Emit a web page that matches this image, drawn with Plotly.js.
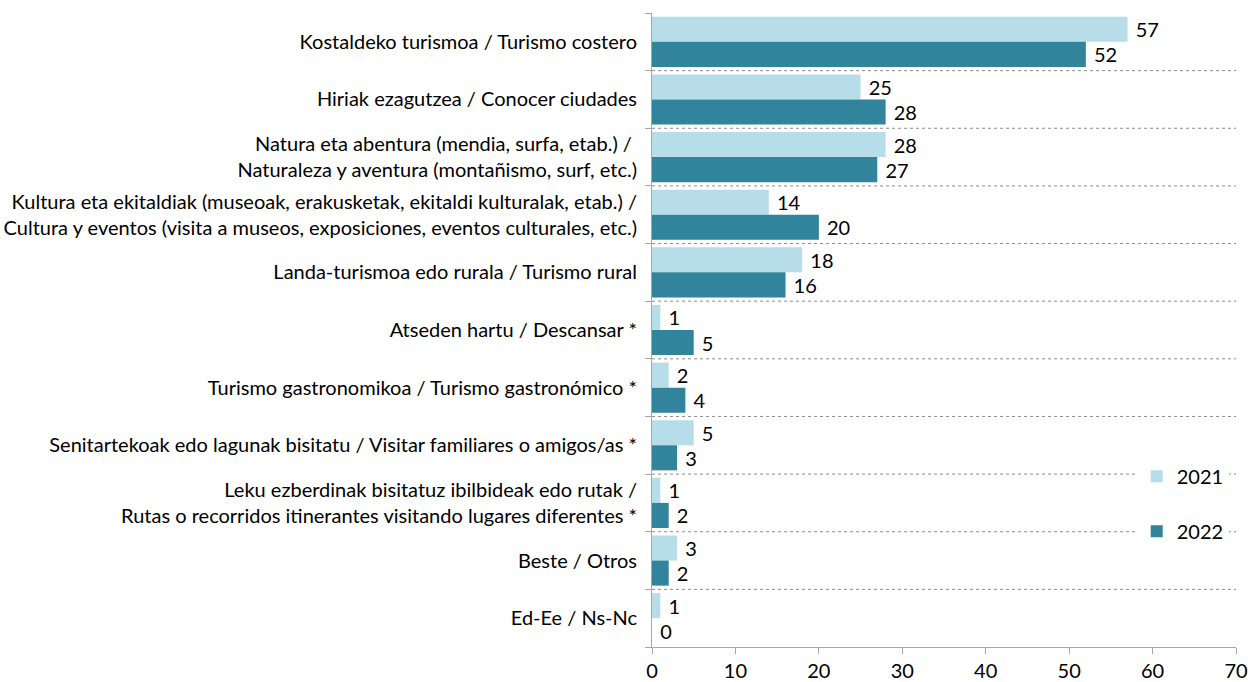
<!DOCTYPE html>
<html>
<head>
<meta charset="utf-8">
<script src="https://cdn.plot.ly/plotly-3.0.1.min.js"></script>
<style>html,body{margin:0;padding:0;background:#fff;}#chart{width:1248px;height:682px;}</style>
</head>
<body>
<div id="chart"></div>
<script>
const categories = [
  "Kostaldeko turismoa / Turismo costero",
  "Hiriak ezagutzea / Conocer ciudades",
  "Natura eta abentura (mendia, surfa, etab.) / <br>Naturaleza y aventura (montañismo, surf, etc.)",
  "Kultura eta ekitaldiak (museoak, erakusketak, ekitaldi kulturalak, etab.) /<br>Cultura y eventos (visita a museos, exposiciones, eventos culturales, etc.)",
  "Landa-turismoa edo rurala / Turismo rural",
  "Atseden hartu / Descansar *",
  "Turismo gastronomikoa / Turismo gastronómico *",
  "Senitartekoak edo lagunak bisitatu / Visitar familiares o amigos/as *",
  "Leku ezberdinak bisitatuz ibilbideak edo rutak /<br>Rutas o recorridos itinerantes visitando lugares diferentes *",
  "Beste / Otros",
  "Ed-Ee / Ns-Nc"
];
const values2021 = [57, 25, 28, 14, 18, 1, 2, 5, 1, 3, 1];
const values2022 = [52, 28, 27, 20, 16, 5, 4, 3, 2, 2, 0];
const seriesNames = ["2021", "2022"];
const xTicks = [0, 10, 20, 30, 40, 50, 60, 70];

const FONT = "Lato, 'Open Sans', sans-serif";
const n = categories.length;
const lbl = v => "\u00a0" + String(v);

const traces = [
  {type: "bar", orientation: "h", name: seriesNames[0], y: categories, x: values2021,
   marker: {color: "#b7dee8"}, text: values2021.map(lbl), textposition: "outside",
   cliponaxis: false, textfont: {size: 20, color: "#000"}, legendgroup: "a", hoverinfo: "x+y"},
  {type: "bar", orientation: "h", name: seriesNames[1], y: categories, x: values2022,
   marker: {color: "#31849b"}, text: values2022.map(lbl), textposition: "outside",
   cliponaxis: false, textfont: {size: 20, color: "#000"}, legendgroup: "b", hoverinfo: "x+y"},
  {type: "scatter", mode: "none", x: [0], y: [0], yaxis: "y2", showlegend: false, hoverinfo: "skip"}
];

const boundaries = [];
for (let i = 0; i <= n; i++) boundaries.push(i - 0.5);

const shapes = [];
for (let i = 0; i < n - 1; i++) {
  shapes.push({type: "line", xref: "x", yref: "y2", x0: 0, x1: 70, y0: i + 0.5, y1: i + 0.5,
    line: {color: "#8c8c8c", width: 1, dash: "dot"}, layer: "below"});
}

const layout = {
  width: 1248, height: 682,
  margin: {l: 652, r: 12, t: 13, b: 35, pad: 0},
  paper_bgcolor: "#fff", plot_bgcolor: "#fff",
  font: {family: FONT, size: 20, color: "#000"},
  barmode: "group", bargap: 0.13, bargroupgap: 0,
  showlegend: true,
  legend: {x: 0.83, xanchor: "left", y: 0.30, yanchor: "top", bgcolor: "#fff",
    font: {size: 20, color: "#000"}, traceorder: "grouped", tracegroupgap: 26,
    borderwidth: 0},
  xaxis: {range: [0, 70], tickvals: xTicks, ticktext: xTicks.map(String),
    showgrid: false, zeroline: false, showline: true, linecolor: "#a6a6a6", linewidth: 1,
    ticks: "outside", ticklen: 6, tickcolor: "#a6a6a6", tickfont: {size: 20},
    fixedrange: true},
  yaxis: {type: "category", categoryorder: "array", categoryarray: categories,
    autorange: "reversed", showgrid: false, zeroline: false, showline: true,
    linecolor: "#a6a6a6", linewidth: 1, ticks: "", ticklabelstandoff: 10,
    tickfont: {size: 20}, fixedrange: true},
  yaxis2: {overlaying: "y", side: "left", range: [n - 0.5, -0.5], tickvals: boundaries,
    showticklabels: false, ticks: "outside", ticklen: 6, tickcolor: "#a6a6a6",
    showgrid: false, zeroline: false, showline: false, fixedrange: true},
  shapes: shapes
};

Plotly.newPlot("chart", traces, layout, {displayModeBar: false, staticPlot: true});
</script>
</body>
</html>
